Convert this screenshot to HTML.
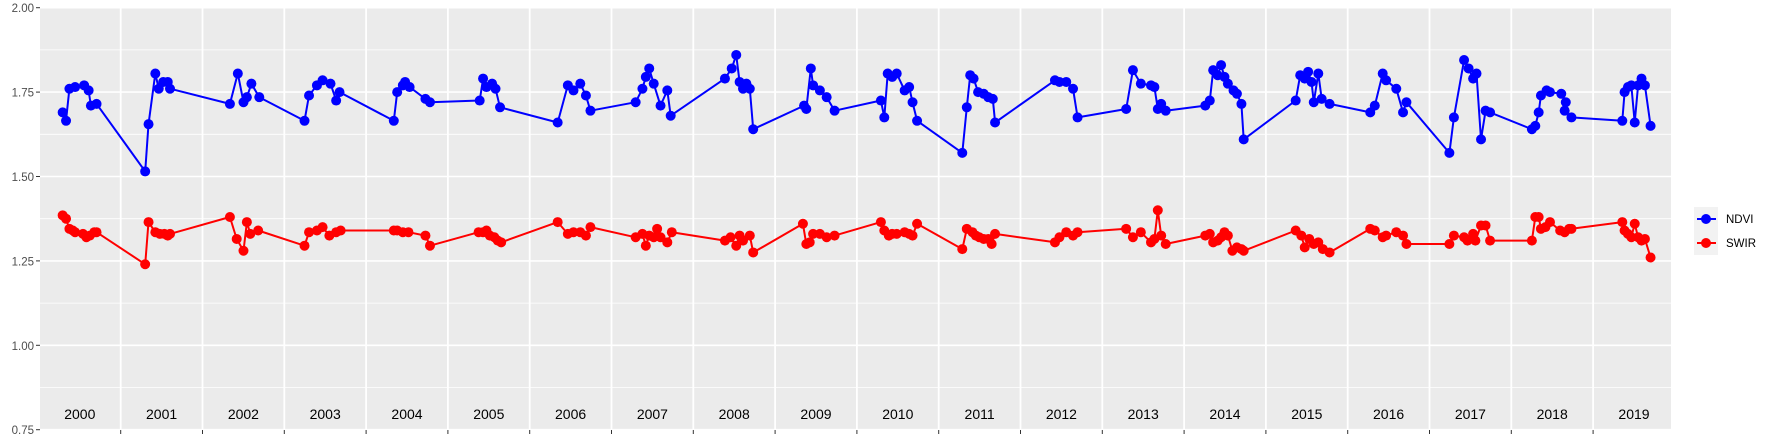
<!DOCTYPE html>
<html><head><meta charset="utf-8"><style>
html,body{margin:0;padding:0;background:#fff;}
svg{display:block;font-family:"Liberation Sans",sans-serif;}
</style></head><body>
<svg id="s" width="1773" height="442" xmlns="http://www.w3.org/2000/svg">
<rect x="40" y="8" width="1631" height="422" fill="#ebebeb"/>
<g id="grid"></g>
<g font-size="11.5" fill="#4d4d4d" text-anchor="end">
<text x="34" y="12">2.00</text>
<text x="34" y="96.5">1.75</text>
<text x="34" y="181">1.50</text>
<text x="34" y="265.5">1.25</text>
<text x="34" y="350">1.00</text>
<text x="34" y="434">0.75</text>
</g>
<g font-size="14" fill="#000" text-anchor="middle">
<text x="79.8" y="419">2000</text><text x="161.6" y="419">2001</text><text x="243.4" y="419">2002</text><text x="325.2" y="419">2003</text><text x="407" y="419">2004</text><text x="488.8" y="419">2005</text><text x="570.6" y="419">2006</text><text x="652.4" y="419">2007</text><text x="734.2" y="419">2008</text><text x="816" y="419">2009</text><text x="897.8" y="419">2010</text><text x="979.6" y="419">2011</text><text x="1061.4" y="419">2012</text><text x="1143.2" y="419">2013</text><text x="1225" y="419">2014</text><text x="1306.8" y="419">2015</text><text x="1388.6" y="419">2016</text><text x="1470.4" y="419">2017</text><text x="1552.2" y="419">2018</text><text x="1634" y="419">2019</text>
</g>
<g id="data"></g>
<rect x="1694" y="207" width="24" height="48" fill="#f2f2f2"/>
<line x1="1697" y1="219" x2="1716" y2="219" stroke="#0000ff" stroke-width="2"/>
<circle cx="1706" cy="219" r="5" fill="#0000ff"/>
<line x1="1697" y1="243" x2="1716" y2="243" stroke="#ff0000" stroke-width="2"/>
<circle cx="1706" cy="243" r="5" fill="#ff0000"/>
<g font-size="11.5" fill="#000"><text x="1726" y="223">NDVI</text><text x="1726" y="247">SWIR</text></g>
</svg>
<script>
var NS="http://www.w3.org/2000/svg";
function el(p,t,a){var e=document.createElementNS(NS,t);for(var k in a)e.setAttribute(k,a[k]);p.appendChild(e);return e;}
var g=document.getElementById("grid");
function Y(v){return 7.7+(2-v)*337.6;}
[1.875,1.625,1.375,1.125,0.875].forEach(function(v){el(g,"line",{x1:40,x2:1671,y1:Y(v),y2:Y(v),stroke:"#fff","stroke-width":0.8});});
[2,1.75,1.5,1.25,1,0.75].forEach(function(v){el(g,"line",{x1:40,x2:1671,y1:Y(v),y2:Y(v),stroke:"#fff","stroke-width":1.6});el(g,"line",{x1:36,x2:40,y1:Y(v),y2:Y(v),stroke:"#333","stroke-width":1});});
for(var k=0;k<19;k++){var x=120.7+81.8*k;el(g,"line",{x1:x,x2:x,y1:8,y2:430,stroke:"#fff","stroke-width":1.8});el(g,"line",{x1:x,x2:x,y1:430,y2:434,stroke:"#333","stroke-width":1});}
var nd=[[55,1.69],[58,1.665],[61,1.76],[66,1.765],[74,1.77],[78,1.755],[80,1.71],[85,1.715],
[128,1.515],[131,1.655],[137,1.805],[140,1.76],[144,1.78],[148,1.78],[150,1.76],
[203,1.715],[210,1.805],[215,1.72],[218,1.735],[222,1.775],[229,1.735],
[269,1.665],[273,1.74],[280,1.77],[285,1.785],[292,1.775],[297,1.725],[300,1.75],
[348,1.665],[351,1.75],[356,1.77],[358,1.78],[362,1.765],[376,1.73],[380,1.72],
[424,1.725],[427,1.79],[430,1.765],[435,1.775],[438,1.76],[442,1.705],
[493,1.66],[502,1.77],[507,1.755],[513,1.775],[518,1.74],[522,1.695],
[562,1.72],[568,1.76],[571,1.795],[574,1.82],[578,1.775],[584,1.71],[590,1.755],[593,1.68],
[641,1.79],[647,1.82],[651,1.86],[654,1.78],[657,1.76],[660,1.775],[663,1.76],[666,1.64],
[711,1.71],[713,1.70],[717,1.82],[719,1.77],[725,1.755],[731,1.735],[738,1.695],
[779,1.725],[782,1.675],[785,1.805],[789,1.795],[793,1.805],[800,1.755],[804,1.765],[807,1.72],[811,1.665],
[851,1.57],[855,1.705],[858,1.80],[861,1.79],[865,1.75],[870,1.745],[874,1.735],[878,1.73],[880,1.66],
[933,1.785],[937,1.78],[943,1.78],[949,1.76],[953,1.675],
[996,1.70],[1002,1.815],[1009,1.775],[1018,1.77],[1021,1.765],[1024,1.70],[1027,1.715],[1031,1.695],
[1066,1.71],[1070,1.725],[1073,1.815],[1077,1.80],[1080,1.83],[1083,1.795],[1086,1.775],[1091,1.755],[1094,1.745],[1098,1.715],[1100,1.61],
[1146,1.725],[1150,1.80],[1154,1.79],[1157,1.81],[1160,1.78],[1162,1.72],[1166,1.805],[1169,1.73],[1176,1.715],
[1212,1.69],[1216,1.71],[1223,1.805],[1226,1.785],[1235,1.76],[1241,1.69],[1244,1.72],
[1282,1.57],[1286,1.675],[1295,1.845],[1299,1.82],[1303,1.79],[1306,1.805],[1310,1.61],[1314,1.695],[1318,1.69],
[1355,1.64],[1358,1.65],[1361,1.69],[1363,1.74],[1368,1.755],[1371,1.75],[1381,1.745],[1385,1.72],[1384,1.695],[1390,1.675],
[1435,1.665],[1437,1.75],[1440,1.765],[1443,1.77],[1446,1.66],[1449,1.77],[1452,1.79],[1455,1.77],[1460,1.65]];
var sw=[[55,1.385],[58,1.375],[61,1.345],[64,1.34],[66,1.335],[73,1.33],[76,1.32],[79,1.325],[83,1.335],[85,1.335],
[128,1.24],[131,1.365],[137,1.335],[141,1.33],[145,1.33],[148,1.325],[150,1.33],
[203,1.38],[209,1.315],[215,1.28],[218,1.365],[221,1.33],[228,1.34],
[269,1.295],[273,1.335],[280,1.34],[285,1.35],[291,1.325],[297,1.335],[301,1.34],
[348,1.34],[351,1.34],[356,1.335],[361,1.335],[376,1.325],[380,1.295],
[423,1.335],[427,1.335],[430,1.34],[433,1.325],[437,1.32],[440,1.31],[443,1.305],
[493,1.365],[502,1.33],[507,1.335],[513,1.335],[518,1.325],[522,1.35],
[562,1.32],[568,1.33],[571,1.295],[574,1.325],[578,1.32],[581,1.345],[584,1.32],[590,1.305],[594,1.335],
[641,1.31],[646,1.32],[651,1.295],[654,1.325],[657,1.31],[663,1.325],[666,1.275],
[710,1.36],[713,1.30],[716,1.305],[719,1.33],[725,1.33],[731,1.32],[738,1.325],
[779,1.365],[782,1.34],[786,1.325],[789,1.33],[793,1.33],[800,1.335],[804,1.33],[807,1.325],[811,1.36],
[851,1.285],[855,1.345],[860,1.335],[863,1.325],[866,1.32],[870,1.315],[874,1.315],[877,1.30],[880,1.33],
[933,1.305],[937,1.32],[943,1.335],[949,1.325],[953,1.335],
[996,1.345],[1002,1.32],[1009,1.335],[1018,1.305],[1021,1.315],[1024,1.40],[1027,1.325],[1031,1.30],
[1066,1.325],[1070,1.33],[1073,1.305],[1077,1.31],[1080,1.32],[1083,1.335],[1086,1.325],[1090,1.28],[1094,1.29],[1098,1.285],[1100,1.28],
[1146,1.34],[1151,1.325],[1154,1.29],[1158,1.315],[1162,1.30],[1166,1.305],[1170,1.285],[1176,1.275],
[1212,1.345],[1216,1.34],[1223,1.32],[1226,1.325],[1235,1.335],[1241,1.325],[1244,1.30],
[1282,1.30],[1286,1.325],[1295,1.32],[1298,1.31],[1303,1.33],[1305,1.31],[1310,1.355],[1314,1.355],[1318,1.31],
[1355,1.31],[1358,1.38],[1361,1.38],[1363,1.345],[1367,1.35],[1371,1.365],[1380,1.34],[1384,1.335],[1388,1.345],[1390,1.345],
[1435,1.365],[1437,1.34],[1440,1.33],[1443,1.32],[1446,1.36],[1449,1.32],[1452,1.31],[1455,1.315],[1460,1.26]];
var d=document.getElementById("data");
function X(xd){xd=xd+3*(1460-xd)/1405;return 40+(xd-38)*1.1326;}
function draw(arr,c){var pts=arr.map(function(p){return X(p[0]).toFixed(1)+","+Y(p[1]).toFixed(1);}).join(" ");
el(d,"polyline",{points:pts,fill:"none",stroke:c,"stroke-width":2,"stroke-linejoin":"round"});
arr.forEach(function(p){el(d,"circle",{cx:X(p[0]),cy:Y(p[1]),r:5,fill:c});});}
draw(nd,"#0000ff");draw(sw,"#ff0000");
</script>
</body></html>
